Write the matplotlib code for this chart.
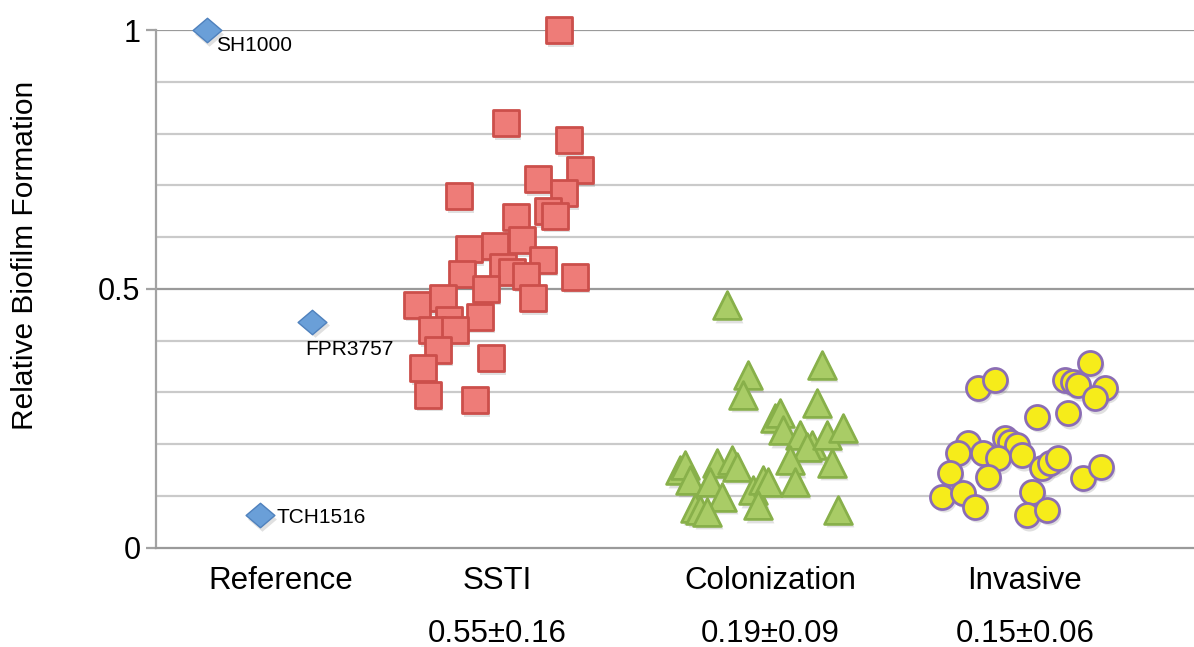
import matplotlib
matplotlib.use("Agg")
import matplotlib.pyplot as plt
from matplotlib.path import Path
from matplotlib.transforms import offset_copy

plt.rcParams['font.family'] = ['Liberation Sans', 'DejaVu Sans']

# reference strains
ref_x = [0.49, 1.51, 1.00]
ref_y = [1.00, 0.436, 0.063]
ref_names = ["SH1000", "FPR3757", "TCH1516"]
ref_offsets = [(6.5, -11), (-5, -20), (12, -2)]

# SSTI isolates
ssti_x = [3.885, 3.375, 3.98, 2.92, 4.088, 3.68, 3.93, 3.78, 3.847, 3.471,
          3.53, 3.018, 3.269, 3.73, 2.951, 3.346, 3.432, 3.567, 4.04, 3.18,
          3.635, 2.517, 2.768, 2.826, 2.66, 3.124, 2.883, 2.72, 2.575, 3.23,
          2.623, 3.076]
ssti_y = [1.0, 0.82, 0.787, 0.679, 0.729, 0.712, 0.685, 0.65, 0.641, 0.639,
          0.594, 0.577, 0.583, 0.556, 0.529, 0.542, 0.532, 0.525, 0.523, 0.5,
          0.482, 0.469, 0.482, 0.44, 0.42, 0.446, 0.42, 0.382, 0.347, 0.366,
          0.295, 0.285]

# colonization isolates
col_x = [5.504, 5.706, 5.658, 6.42, 6.371, 5.966, 6.014, 6.043, 6.207, 6.322,
         6.274, 6.467, 6.62, 6.11, 6.515, 5.051, 5.099, 5.147, 5.408, 5.552,
         5.6, 5.34, 5.456, 5.755, 5.851, 5.899, 6.159, 5.195, 5.243, 5.31,
         5.802, 6.573]
col_y = [0.468, 0.334, 0.295, 0.353, 0.28, 0.251, 0.26, 0.227, 0.218, 0.198,
         0.194, 0.218, 0.231, 0.169, 0.164, 0.15, 0.16, 0.131, 0.164, 0.169,
         0.156, 0.127, 0.098, 0.111, 0.131, 0.127, 0.127, 0.077, 0.073, 0.069,
         0.082, 0.073]

# invasive isolates
inv_x = [7.922, 8.086, 9.001, 8.76, 8.837, 8.885, 9.145, 9.049, 8.49, 8.789,
         7.826, 7.729, 7.97, 8.182, 8.23, 8.298, 8.115, 8.346, 8.539, 8.616,
         8.693, 7.652, 8.019, 8.934, 9.1, 7.575, 7.778, 7.893, 8.442, 8.394,
         8.587]
inv_y = [0.309, 0.324, 0.357, 0.324, 0.32, 0.314, 0.309, 0.289, 0.253, 0.26,
         0.202, 0.183, 0.183, 0.212, 0.204, 0.198, 0.173, 0.179, 0.154, 0.164,
         0.173, 0.144, 0.137, 0.135, 0.156, 0.098, 0.106, 0.079, 0.108, 0.063,
         0.073]

groups = ["Reference", "SSTI", "Colonization", "Invasive"]
group_x = [1.20, 3.29, 5.92, 8.37]
group_stats = ["", "0.55±0.16", "0.19±0.09", "0.15±0.06"]

fig = plt.figure(figsize=(11.94, 6.47), dpi=100)
ax = fig.add_axes([0.1304, 0.1535, 0.8696, 0.800])
ax.set_xlim(0, 10)
ax.set_ylim(0, 1)

# gridlines
for i in range(1, 11):
    v = i / 10
    major = i % 5 == 0
    ax.axhline(v, color='#9a9a9a' if major else '#cacaca', lw=1.6, zorder=0)

for s in ['top', 'right']:
    ax.spines[s].set_visible(False)
ax.spines['left'].set_color('#a3a3a3')
ax.spines['bottom'].set_color('#9a9a9a')
ax.spines['left'].set_linewidth(1.6)
ax.spines['bottom'].set_linewidth(1.6)
ax.set_xticks([])
ax.set_yticks([0, 0.5, 1])
ax.set_yticklabels(["0", "0.5", "1"])
ax.tick_params(axis='y', length=7, width=1.6, color='#a3a3a3', labelsize=22, pad=4)
ax.set_ylabel("Relative Biofilm Formation", fontsize=21.5, va='center')
ax.yaxis.set_label_coords(-0.126, 0.565)

shadow = offset_copy(ax.transData, fig=fig, x=1.5, y=-2.5, units='points')
diamond = Path([(0, 0.85), (1, 0), (0, -0.85), (-1, 0), (0, 0.85)],
               [Path.MOVETO, Path.LINETO, Path.LINETO, Path.LINETO, Path.CLOSEPOLY])

series = [
    (ref_x, ref_y, diamond, 430, '#6a9fd8', '#4f81bd', 1.0),
    (ssti_x, ssti_y, 's', 330, '#ee7c78', '#cc4f4b', 2.0),
    (col_x, col_y, '^', 400, '#a9cc66', '#88b04a', 2.0),
    (inv_x, inv_y, 'o', 300, '#f6ec1a', '#8b6db4', 2.0),
]
for xs, ys, m, size, fc, ec, lw in series:
    ax.scatter(xs, ys, marker=m, s=size, color='#555555', alpha=0.18,
               linewidths=0, transform=shadow, clip_on=False, zorder=2)
    ax.scatter(xs, ys, marker=m, s=size, facecolor=fc, edgecolor=ec,
               linewidths=lw, clip_on=False, zorder=3)

for x, y, name, off in zip(ref_x, ref_y, ref_names, ref_offsets):
    ax.annotate(name, (x, y), xytext=off, textcoords='offset points',
                ha='left', va='center', fontsize=15, zorder=4)

trans = ax.get_xaxis_transform()
for x, name, stat in zip(group_x, groups, group_stats):
    ax.text(x, -0.064, name, transform=trans, ha='center', va='center', fontsize=22.5)
    if stat:
        ax.text(x, -0.167, stat, transform=trans, ha='center', va='center', fontsize=22.5)

plt.savefig("out.png", dpi=100)
